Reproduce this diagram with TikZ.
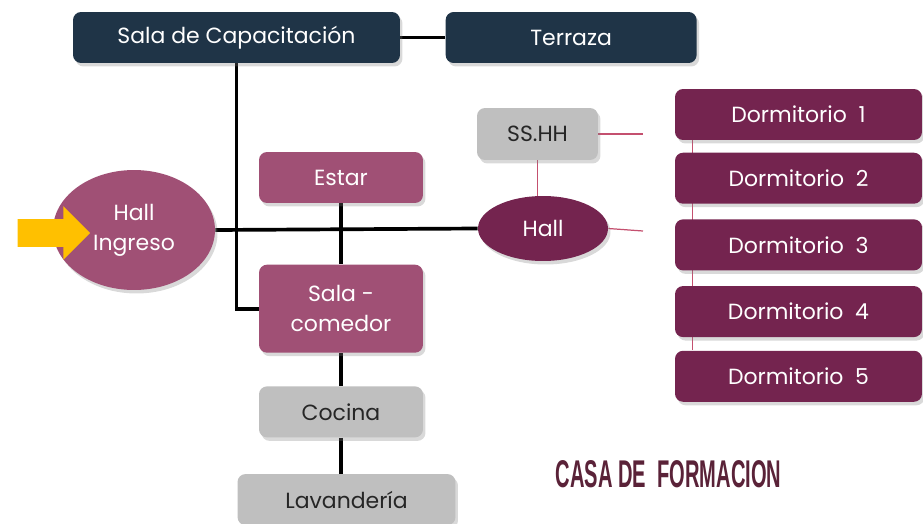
\documentclass[tikz,border=0pt]{standalone}
\usepackage{fontspec}
\setmainfont{Poppins}
\usepackage{xcolor}
\usepackage{graphicx}
\usepackage{tikz}
\usetikzlibrary{shapes.geometric, shapes.arrows, positioning, shadows, backgrounds}

\definecolor{navy}{HTML}{1F3447}
\definecolor{rose}{HTML}{A05075}
\definecolor{plum}{HTML}{74244F}
\definecolor{stone}{HTML}{BFBFBF}
\definecolor{wire}{HTML}{C4506F}
\definecolor{amber}{HTML}{FFC000}
\definecolor{titlecol}{HTML}{5A2238}

\begin{document}
\begin{tikzpicture}[x=0.02cm, y=-0.02cm, node distance=0.24cm,
    shade/.style={drop shadow={opacity=0.3, shadow xshift=0.05cm, shadow yshift=-0.07cm}},
    room/.style={rectangle, rounded corners=0.16cm, minimum height=1.02cm, align=center, font=\fontsize{12.5}{17}\selectfont, shade},
    topbox/.style={room, fill=navy, text=white},
    rosebox/.style={room, fill=rose, text=white},
    plumbox/.style={room, fill=plum, text=white, minimum width=4.94cm},
    stonebox/.style={room, fill=stone, text=black!85},
    thickline/.style={line width=2.1pt, black},
    thinline/.style={line width=0.7pt, wire}]
    \useasboundingbox (0,0) rectangle (923,524);

    \node[topbox, minimum width=6.54cm] (cap) at (236.5,37.5) {Sala de Capacitación};
    \node[topbox, minimum width=5.02cm, right=0.9cm of cap] (terraza) {Terraza};

    \node[rosebox, minimum width=3.28cm] (estar) at (341,177.5) {Estar};
    \node[rosebox, minimum width=3.28cm, minimum height=1.76cm, below=1.22cm of estar] (comedor) {Sala -\\comedor};
    \node[stonebox, minimum width=3.28cm, below=0.66cm of comedor] (cocina) {Cocina};
    \node[stonebox, minimum width=4.36cm, below=0.72cm of cocina, xshift=0.11cm] (lavanderia) {Lavandería};

    \node[ellipse, fill=rose, text=white, minimum width=3.24cm, minimum height=2.4cm, align=center, font=\fontsize{12.5}{17}\selectfont, shade] (ingreso) at (134,230) {Hall\\Ingreso};
    \node[single arrow, fill=amber, inner xsep=0pt, inner ysep=0.27cm, single arrow head extend=0.26cm, minimum height=1.45cm] (entrada) at (47,233) {};

    \node[ellipse, fill=plum, text=white, minimum width=2.6cm, minimum height=1.3cm, font=\fontsize{12.5}{17}\selectfont, shade] (hall) at (543,228.5) {Hall};
    \node[stonebox, minimum width=2.42cm, minimum height=1.04cm] (sshh) at (537.5,134) {SS.HH};

    \node[plumbox] (d1) at (798.5,114.5) {Dormitorio~~1};
    \node[plumbox, below=of d1] (d2) {Dormitorio~~2};
    \node[plumbox, below=0.3cm of d2] (d3) {Dormitorio~~3};
    \node[plumbox, below=0.3cm of d3] (d4) {Dormitorio~~4};
    \node[plumbox, below=0.26cm of d4] (d5) {Dormitorio~~5};

    \coordinate (dend) at (643,231);

    \node[text=titlecol, font=\fontspec{Liberation Sans}\bfseries\fontsize{22}{22}\selectfont] (titulo) at (668.5,474) {\scalebox{0.52}[1]{CASA DE~~FORMACION}};

    \begin{scope}[on background layer]
        \draw[thickline] (cap.east) -- (terraza.west);
        \draw[thickline] (cap.south) |- (comedor.west);
        \draw[thickline] (ingreso.east) -- (hall.west);
        \draw[thickline] (estar) -- (comedor);
        \draw[thickline] (comedor) -- (cocina);
        \draw[thickline] (cocina) -- (cocina |- lavanderia.north);
        \draw[thinline] (sshh) -- (sshh |- hall.center);
        \draw[thinline] (sshh.east) -- (sshh.east -| dend);
        \draw[thinline] (hall.east) -- (dend);
        \draw[thinline] ([xshift=0.36cm]d1.south west) -- ([xshift=0.36cm]d5.north west);
    \end{scope}
\end{tikzpicture}
\end{document}
